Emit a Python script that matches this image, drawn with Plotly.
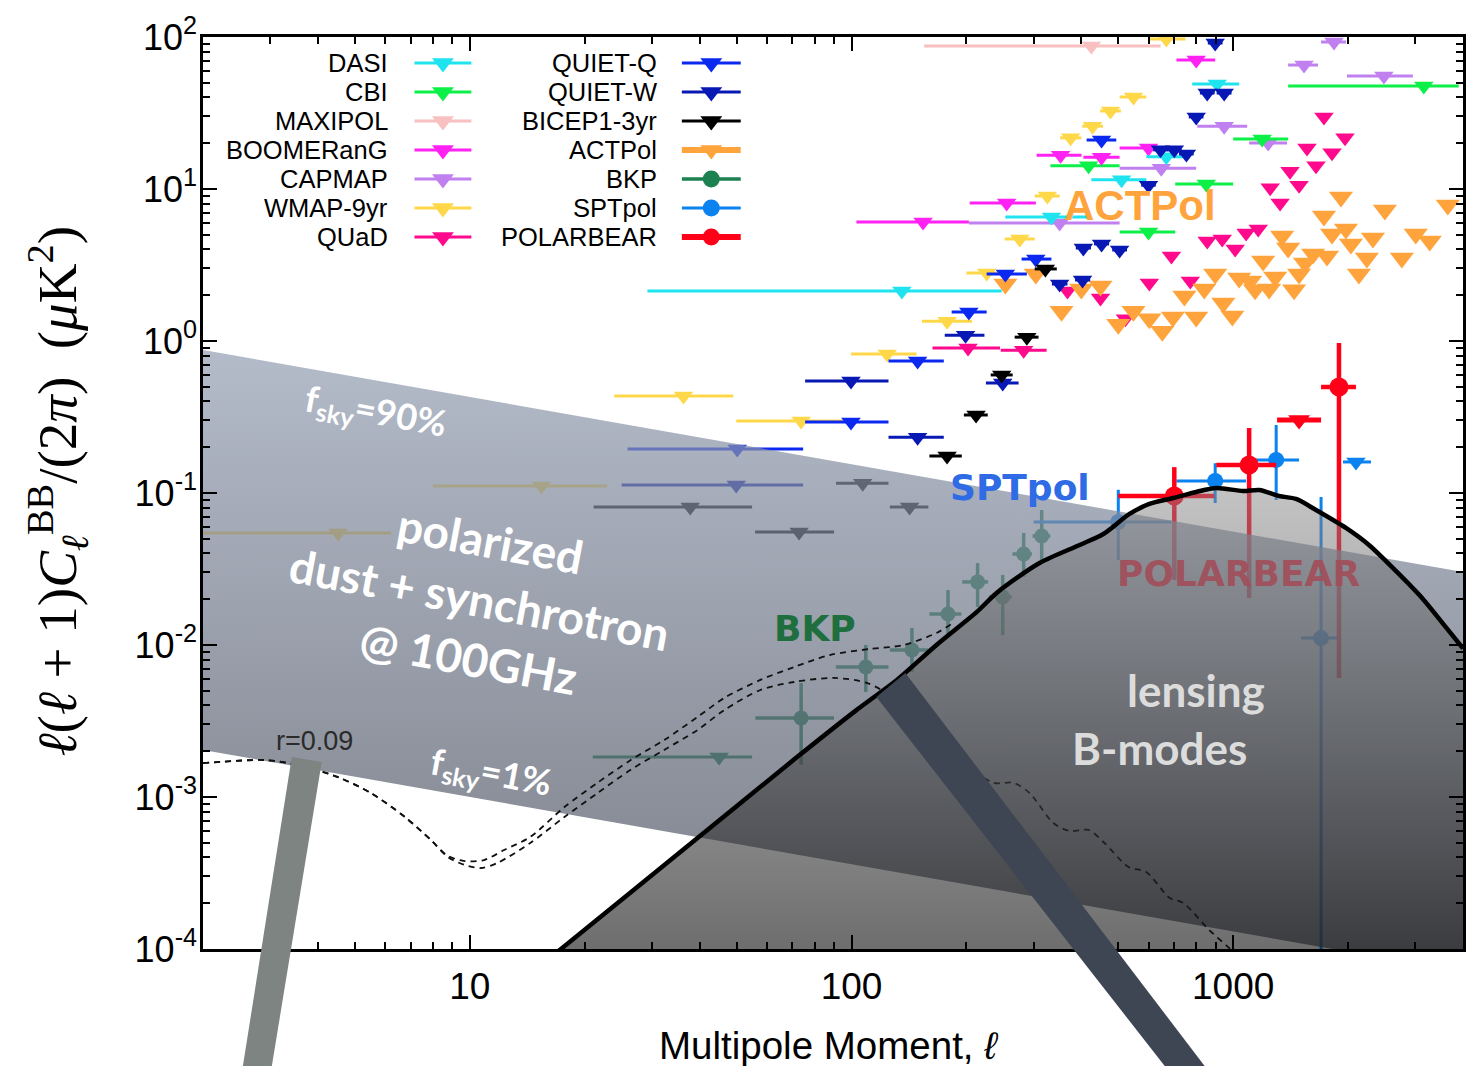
import math
import plotly.graph_objects as go

# ---------------------------------------------------------------------------
# B-mode band powers, l(l+1)C_l^BB/2pi in uK^2
# upper limits: bin centre, lower/upper bin edge, limit value
# ---------------------------------------------------------------------------
dasi_l = [135.5, 334, 510, 668, 908]
dasi_lo = [29.2, 253, 425, 592, 781]
dasi_hi = [247.5, 415, 592, 754, 1037]
dasi_v = [2.13, 6.54, 11.5, 16.3, 49.0]

cbi_l = [418, 600, 850, 1191, 3158]
cbi_lo = [332, 504, 705, 1000, 1393]
cbi_hi = [504, 705, 1000, 1393, 3898]
cbi_v = [14.2, 5.21, 10.8, 21.3, 47.6]

maxipol_l = [425]
maxipol_lo = [155]
maxipol_hi = [645]
maxipol_v = [87.3]

boom_l = [154, 255, 353, 452, 600, 800]
boom_lo = [103, 204, 305.5, 405, 504, 710]
boom_hi = [203, 304, 400.5, 504, 645, 897]
boom_v = [6.07, 8.09, 16.7, 16.2, 18.6, 70.6]

capmap_l = [351, 648, 947, 1235, 1533, 1837, 2482]
capmap_lo = [203, 504, 805, 1101, 1393, 1699, 1986]
capmap_hi = [504, 800, 1088, 1384, 1668, 1974, 2955]
capmap_v = [5.98, 13.7, 25.9, 20.1, 65.4, 92.7, 55.4]

wmap_l = [4.52, 15.4, 36.3, 73.8, 124, 178, 226, 276, 326, 375, 428, 477, 548, 668]
wmap_lo = [2.0, 8.01, 23.9, 49.9, 99.7, 153, 200, 252, 302, 352, 402, 448, 504, 603]
wmap_hi = [6.22, 22.9, 49.0, 95.0, 148, 207, 255, 302, 351, 400, 456, 508, 592, 750]
wmap_v = [0.0546, 0.111, 0.435, 0.298, 0.821, 1.35, 2.80, 4.69, 8.99, 21.7, 25.9, 32.6, 40.3, 97.0]

quad_l = [1729, 1963, 1561, 1815, 1648, 1409, 1488, 1250, 1327, 1163, 1081, 936, 855,
          1012, 689, 603, 772, 368, 449, 522, 202, 282.5]
quad_lo = [1729, 1963, 1561, 1815, 1648, 1409, 1488, 1250, 1327, 1163, 1081, 936, 855,
           1012, 689, 603, 772, 368, 449, 522, 163, 246]
quad_hi = [1729, 1963, 1561, 1815, 1648, 1409, 1488, 1250, 1327, 1163, 1081, 936, 855,
           1012, 689, 603, 772, 368, 449, 522, 245, 324.5]
quad_v = [29.8, 21.7, 18.6, 17.3, 14.2, 13.1, 10.6, 10.2, 8.09, 5.46, 5.14, 4.69, 4.55,
          4.03, 3.62, 2.41, 2.48, 2.13, 1.92, 1.40, 0.90, 0.87]

quietq_l = [50.2, 99.7, 149, 203, 253, 304, 452]
quietq_lo = [25.9, 75.6, 125, 183, 226, 279, 413]
quietq_hi = [74.7, 125, 174.5, 226, 288, 334, 494]
quietq_v = [0.195, 0.293, 0.738, 1.55, 2.76, 3.46, 21.0]

quietw_l = [49.9, 99.7, 149, 199, 249, 351, 403, 405, 452, 504, 600, 645, 701, 754, 800, 855, 947, 897]
quietw_lo = [25.0, 75.6, 125, 175.5, 225, 335, 385, 387, 432, 482, 574, 617, 670, 721, 765, 818, 905, 858]
quietw_hi = [74.7, 125, 174.5, 223, 274, 368, 422, 424, 473, 527, 627, 674, 733, 788, 836, 894, 990, 938]
quietw_v = [0.113, 0.546, 0.233, 1.09, 0.53, 2.37, 2.52, 4.09, 4.35, 3.97, 10.6, 18.1, 18.1,
            17.0, 29.8, 42.8, 42.8, 91.3]

bicep_l = [37.8, 72.9, 107, 142, 178, 212, 247.5, 288, 322]
bicep_lo = [21.1, 55.9, 91.1, 126, 160, 197, 231.6, 267.6, 302]
bicep_hi = [54.9, 90.0, 125, 159, 194.5, 227.5, 264.4, 309, 345]
bicep_v = [0.0809, 0.0554, 0.116, 0.0809, 0.175, 0.326, 0.598, 1.06, 2.98]

actpol_l = [1916, 3649, 2497, 1729, 1974, 1343, 2323, 3008, 3273, 1815, 2034, 1393, 1619, 1761,
            1542, 2240, 2766, 1198, 1288, 2135, 1488, 1037, 897, 1108, 1242, 1444, 1141, 840,
            745, 942, 995, 800, 695, 603, 548, 500, 652, 449, 400, 355, 304, 253]
actpol_v = [8.86, 7.85, 7.28, 6.64, 5.46, 4.91, 4.76, 5.06, 4.55, 5.06, 4.35, 4.09, 3.74, 3.62,
            3.26, 3.52, 3.52, 3.36, 2.64, 2.76, 2.76, 2.60, 2.76, 2.48, 2.20, 2.17, 2.17, 2.20,
            1.98, 1.78, 1.46, 1.44, 1.44, 1.40, 1.57, 1.29, 1.16, 2.30, 2.20, 1.57, 2.76, 2.37]

# detections: bin centre, bin edges, band power and its 1-sigma range
bkp_l = [73.8, 109, 144, 179, 214, 249, 282.5, 315]
bkp_lo = [56, 91, 126, 160, 195, 229, 264, 298]
bkp_hi = [90, 125, 159, 194, 228, 263, 297, 332]
bkp_v = [0.00331, 0.00716, 0.00927, 0.0160, 0.0260, 0.0207, 0.0397, 0.0521]
bkp_vlo = [0.00163, 0.00491, 0.00664, 0.0113, 0.0178, 0.0116, 0.0280, 0.0362]
bkp_vhi = [0.00562, 0.0100, 0.01294, 0.0230, 0.0346, 0.0289, 0.0546, 0.0773]
bkp_ul_l, bkp_ul_lo, bkp_ul_hi, bkp_ul_v = [45.0], [21.0], [54.9], [0.00183]

spt_l = [500, 897, 1296, 1699]
spt_lo = [300, 710, 1149, 1506]
spt_hi = [689, 1081, 1488, 1882]
spt_v = [0.0645, 0.120, 0.165, 0.0111]
spt_vlo = [0.0362, 0.0859, 0.0899, 1e-5]
spt_vhi = [0.105, 0.157, 0.280, 0.0941]
spt_ul_l, spt_ul_lo, spt_ul_hi, spt_ul_v = [2097], [1939], [2296], [0.160]

pb_l = [701, 1101, 1893]
pb_lo = [500, 903, 1699]
pb_hi = [892, 1296, 2097]
pb_v = [0.0955, 0.153, 0.498]
pb_vlo = [0.0268, 0.0204, 0.00607]
pb_vhi = [0.148, 0.268, 0.970]
pb_ul_l, pb_ul_lo, pb_ul_hi, pb_ul_v = [1488], [1303], [1699], [0.302]

# ---------------------------------------------------------------------------
# model spectra
# ---------------------------------------------------------------------------
lens_l = [16.0, 17.5, 39.5, 72.0, 103, 131.5, 167, 213, 240, 311, 396, 457, 535, 603, 697, 800,
          903, 1062, 1170, 1319, 1461, 1648, 1974, 2268, 2668, 3140, 3606, 4000]
lens_v = [8.5e-5, 1.02e-4, 5.37e-4, 1.83e-3, 3.73e-3, 5.89e-3, 1.0e-2, 1.65e-2, 2.20e-2, 3.46e-2,
          4.55e-2, 5.37e-2, 7.28e-2, 8.47e-2, 9.27e-2, 0.1016, 0.1079, 0.1030, 0.1047, 0.0955,
          0.0914, 0.0773, 0.0589, 0.0455, 0.0307, 0.0201, 0.0131, 0.0095]

# r = 0.09 primordial (tensor) spectrum
tens_l = [2.0, 2.91, 3.55, 4.52, 5.51, 6.76, 7.91, 8.76, 9.70, 10.7, 11.8, 14.4, 17.7, 21.6, 26.4,
          32.3, 39.5, 46.4, 57.7, 70.7, 90.0, 110, 131.5, 167, 200, 236, 266, 293, 338, 373, 418,
          460, 532, 592, 681, 740, 866, 970, 1081]
tens_v = [1.67e-3, 1.75e-3, 1.62e-3, 1.35e-3, 1.06e-3, 7.39e-4, 5.21e-4, 4.03e-4, 3.57e-4,
          3.41e-4, 3.68e-4, 4.98e-4, 7.39e-4, 1.06e-3, 1.51e-3, 2.04e-3, 2.76e-3, 3.73e-3,
          5.06e-3, 5.71e-3, 6.07e-3, 5.62e-3, 4.35e-3, 2.56e-3, 1.62e-3, 1.24e-3, 1.24e-3,
          1.06e-3, 6.74e-4, 5.97e-4, 6.07e-4, 4.98e-4, 3.46e-4, 3.21e-4, 2.17e-4, 2.01e-4,
          1.33e-4, 1.03e-4, 8.0e-5]

# r = 0.09 tensor + lensing
tot_l = [2.0, 2.91, 3.55, 4.52, 5.51, 6.76, 7.91, 8.76, 9.70, 10.9, 12.3, 14.4, 17.7, 21.6, 26.4,
         32.3, 39.5, 46.4, 57.7, 70.7, 87.8, 112, 137, 167, 185]
tot_v = [1.67e-3, 1.75e-3, 1.62e-3, 1.35e-3, 1.06e-3, 7.39e-4, 5.21e-4, 4.10e-4, 3.79e-4,
         3.85e-4, 4.48e-4, 5.46e-4, 8.59e-4, 1.24e-3, 1.75e-3, 2.37e-3, 3.36e-3, 4.48e-3,
         5.89e-3, 7.16e-3, 8.59e-3, 9.42e-3, 1.0e-2, 1.20e-2, 1.40e-2]

# polarized dust + synchrotron at 100 GHz, for f_sky = 90% and f_sky = 1%
fg_l = [2, 4000]
fg_fsky90 = [0.873, 0.0302]
fg_fsky1 = [0.00204, 7.06e-5]

# ---------------------------------------------------------------------------
C_DASI = "#1fe3ee"
C_CBI = "#0cf048"
C_MAXIPOL = "#f8c0c0"
C_BOOM = "#ff22f2"
C_CAPMAP = "#c080f0"
C_WMAP = "#ffd84a"
C_QUAD = "#ff0a8c"
C_QQ = "#0a28f0"
C_QW = "#0818b4"
C_BICEP = "#000000"
C_ACT = "#ffa43c"
C_BKP = "#1c8050"
C_SPT = "#0a82f0"
C_PB = "#ff0018"

fig = go.Figure()


def limits(l, lo, hi, v, color, size=17, thick=3):
    fig.add_trace(go.Scatter(
        x=l, y=v, mode="markers",
        marker=dict(symbol="triangle-down", size=size, color=color, line=dict(width=0)),
        error_x=dict(type="data", symmetric=False,
                     array=[h - c for h, c in zip(hi, l)],
                     arrayminus=[c - a for a, c in zip(lo, l)],
                     color=color, thickness=thick, width=0),
        showlegend=False, hoverinfo="skip"))


def detections(l, lo, hi, v, vlo, vhi, color, size=16, thick=3.5):
    fig.add_trace(go.Scatter(
        x=l, y=v, mode="markers",
        marker=dict(symbol="circle", size=size, color=color, line=dict(width=0)),
        error_x=dict(type="data", symmetric=False,
                     array=[h - c for h, c in zip(hi, l)],
                     arrayminus=[c - a for a, c in zip(lo, l)],
                     color=color, thickness=thick, width=0),
        error_y=dict(type="data", symmetric=False,
                     array=[h - c for h, c in zip(vhi, v)],
                     arrayminus=[c - a for a, c in zip(vlo, v)],
                     color=color, thickness=thick, width=0),
        showlegend=False, hoverinfo="skip"))


limits(maxipol_l, maxipol_lo, maxipol_hi, maxipol_v, C_MAXIPOL)
limits(capmap_l, capmap_lo, capmap_hi, capmap_v, C_CAPMAP)
limits(cbi_l, cbi_lo, cbi_hi, cbi_v, C_CBI)
limits(boom_l, boom_lo, boom_hi, boom_v, C_BOOM)
limits(wmap_l, wmap_lo, wmap_hi, wmap_v, C_WMAP)
limits(quad_l, quad_lo, quad_hi, quad_v, C_QUAD)
limits(actpol_l, actpol_l, actpol_l, actpol_v, C_ACT, size=21)
limits(dasi_l, dasi_lo, dasi_hi, dasi_v, C_DASI)
limits(quietq_l, quietq_lo, quietq_hi, quietq_v, C_QQ)
limits(quietw_l, quietw_lo, quietw_hi, quietw_v, C_QW)
limits(bicep_l, bicep_lo, bicep_hi, bicep_v, C_BICEP)
limits(bkp_ul_l, bkp_ul_lo, bkp_ul_hi, bkp_ul_v, C_BKP)
detections(bkp_l, bkp_lo, bkp_hi, bkp_v, bkp_vlo, bkp_vhi, C_BKP, size=15, thick=3.5)
limits(spt_ul_l, spt_ul_lo, spt_ul_hi, spt_ul_v, C_SPT)
detections(spt_l, spt_lo, spt_hi, spt_v, spt_vlo, spt_vhi, C_SPT, size=16, thick=3)
limits(pb_ul_l, pb_ul_lo, pb_ul_hi, pb_ul_v, C_PB, size=19, thick=5)
detections(pb_l, pb_lo, pb_hi, pb_v, pb_vlo, pb_vhi, C_PB, size=19, thick=4.5)

# foreground band (translucent, so data behind it are dimmed)
fig.add_trace(go.Scatter(
    x=fg_l + fg_l[::-1] + fg_l[:1],
    y=fg_fsky90 + fg_fsky1[::-1] + fg_fsky90[:1],
    mode="lines", line=dict(width=0), fill="toself",
    fillgradient=dict(type="vertical",
                      colorscale=[[0, "rgba(72,78,90,0.72)"], [1, "rgba(150,160,180,0.72)"]]),
    showlegend=False, hoverinfo="skip"))

# r = 0.09 curves
for lx, vy in ((tot_l, tot_v), (tens_l, tens_v)):
    fig.add_trace(go.Scatter(x=lx, y=vy, mode="lines",
                             line=dict(color="#111111", width=1.8, dash="6px,5px",
                                       shape="spline", smoothing=0.8),
                             showlegend=False, hoverinfo="skip"))

# lensing B-modes: shaded region and outline
fig.add_trace(go.Scatter(
    x=lens_l + [4000, lens_l[0]],
    y=lens_v + [8.0e-5, 8.0e-5],
    mode="lines", line=dict(width=0, shape="spline", smoothing=0.8), fill="toself",
    fillgradient=dict(type="vertical",
                      colorscale=[[0, "rgba(0,0,0,0.62)"], [1, "rgba(135,135,135,0.5)"]]),
    showlegend=False, hoverinfo="skip"))
fig.add_trace(go.Scatter(x=lens_l, y=lens_v, mode="lines",
                         line=dict(color="black", width=4.5, shape="spline", smoothing=0.8),
                         showlegend=False, hoverinfo="skip"))

# ---------------------------------------------------------------------------
# pixel helpers for layout placement (plot area: x 203..1466, y 37..949)
def px(x):
    return (x - 203) / 1263.0


def py(y):
    return (949 - y) / 912.0


# hand-built two-column legend on an overlay axis pair
legend_cols = [
    [("DASI", C_DASI, "triangle-down", 3), ("CBI", C_CBI, "triangle-down", 3),
     ("MAXIPOL", C_MAXIPOL, "triangle-down", 3), ("BOOMERanG", C_BOOM, "triangle-down", 3),
     ("CAPMAP", C_CAPMAP, "triangle-down", 3), ("WMAP-9yr", C_WMAP, "triangle-down", 3),
     ("QUaD", C_QUAD, "triangle-down", 3)],
    [("QUIET-Q", C_QQ, "triangle-down", 3), ("QUIET-W", C_QW, "triangle-down", 3),
     ("BICEP1-3yr", C_BICEP, "triangle-down", 3), ("ACTPol", C_ACT, "triangle-down", 6),
     ("BKP", C_BKP, "circle", 3.5), ("SPTpol", C_SPT, "circle", 3),
     ("POLARBEAR", C_PB, "circle", 6)],
]
col_geom = [(390, 415, 472), (660, 683, 742)]  # text right edge, glyph left, glyph right

annotations = []
for (text_r, g0, g1), entries in zip(col_geom, legend_cols):
    for k, (name, color, sym, lw) in enumerate(entries):
        yy = py(63 + 29 * k)
        fig.add_trace(go.Scatter(x=[px(g0), px(g1)], y=[yy, yy], mode="lines",
                                 line=dict(color=color, width=lw), xaxis="x2", yaxis="y2",
                                 showlegend=False, hoverinfo="skip"))
        fig.add_trace(go.Scatter(x=[px((g0 + g1) / 2)], y=[yy], mode="markers",
                                 marker=dict(symbol=sym, size=19 if sym != "circle" else 17,
                                             color=color, line=dict(width=0)),
                                 xaxis="x2", yaxis="y2", showlegend=False, hoverinfo="skip"))
        annotations.append(dict(x=px(text_r), y=yy, xref="paper", yref="paper",
                                text=name, showarrow=False, xanchor="right", yanchor="middle",
                                font=dict(family="Liberation Sans, Arial", size=25.5,
                                          color="black")))

HUM = "Lato, Open Sans, sans-serif"
BOLD = "DejaVu Sans, Verdana, sans-serif"


def label(x, y, text, size, color, family, angle=0, weight="bold"):
    annotations.append(dict(x=px(x), y=py(y), xref="paper", yref="paper", text=text,
                            showarrow=False, xanchor="center", yanchor="middle",
                            textangle=angle,
                            font=dict(family=family, size=size, color=color, weight=weight)))


label(376, 413, "f<sub>sky</sub>=90%", 36, "white", HUM, angle=10.5)
label(480, 599, "polarized<br>dust + synchrotron<br>@ 100GHz", 46, "white", HUM, angle=10.5)
label(492, 773, "f<sub>sky</sub>=1%", 36, "white", HUM, angle=10.5)
label(1198, 690, "lensing", 44, "#dcdcdc", HUM)
label(1162, 748, "B-modes", 44, "#dcdcdc", HUM)
label(1142, 205, "ACTPol", 42, C_ACT, "Liberation Sans Narrow, Liberation Sans, Arial")
label(1022, 487, "SPTpol", 36, "#2e6be4", BOLD)
label(816, 628, "BKP", 36, "#1e6e3e", BOLD)
label(1241, 573, "POLARBEAR", 36, "rgba(160,80,92,0.95)", BOLD)
label(315, 741, "r=0.09", 27, "#2a2a2a", "Liberation Sans, Arial", weight="normal")

# axis titles
annotations.append(dict(x=px(830), y=py(1045), xref="paper", yref="paper",
                        text="Multipole Moment, <i>ℓ</i>", showarrow=False,
                        xanchor="center", yanchor="middle",
                        font=dict(family="Liberation Sans, Arial", size=38.5, color="black")))
NB = "\u00a0"
annotations.append(dict(x=px(57), y=py(491), xref="paper", yref="paper",
                        text=f"<i>ℓ</i>(<i>ℓ</i>{NB}+{NB}1)<i>C</i><sub><i>ℓ</i></sub>"
                             f"<sup>BB</sup>/(2<i>π</i>){NB}{NB}(<i>μ</i>K<sup>2</sup>)",
                        showarrow=False, xanchor="center", yanchor="middle", textangle=-90,
                        font=dict(family="Liberation Serif, DejaVu Serif, serif", size=55,
                                  color="black")))

# pointer bars running off the bottom of the frame
shapes = [
    dict(type="path", xref="paper", yref="paper", layer="above", line=dict(width=0),
         fillcolor="#7e8481",
         path=f"M {px(292)} {py(757)} L {px(322)} {py(762)} L {px(272)} {py(1066)} "
              f"L {px(243)} {py(1066)} Z"),
    dict(type="path", xref="paper", yref="paper", layer="above", line=dict(width=0),
         fillcolor="#3e4553",
         path=f"M {px(878)} {py(697)} L {px(907)} {py(673)} L {px(1207)} {py(1066)} "
              f"L {px(1167)} {py(1066)} Z"),
]

x_minor = [k * 10 ** e for e in range(0, 4) for k in range(2, 10) if 2 <= k * 10 ** e <= 4000]
y_minor = [k * 10.0 ** e for e in range(-4, 2) for k in range(2, 10)]
y_major = [10.0 ** e for e in range(-4, 3)]
y_text = [f"10<sup>{e}</sup>" for e in range(-4, 3)]

axis_common = dict(showline=True, linecolor="black", linewidth=2.5, mirror="allticks",
                   ticks="inside", ticklen=14, tickwidth=2, tickcolor="black",
                   showgrid=False, zeroline=False)

fig.update_layout(
    width=1466, height=1066,
    margin=dict(l=203, r=0, t=37, b=117, pad=0),
    paper_bgcolor="white", plot_bgcolor="white",
    showlegend=False,
    xaxis=dict(type="log", range=[math.log10(2), math.log10(4000)],
               tickmode="array", tickvals=[10, 100, 1000], ticktext=["10", "100", "1000"],
               ticklabelstandoff=3,
               tickfont=dict(family="Liberation Sans, Arial", size=37, color="black"),
               minor=dict(ticks="inside", ticklen=7, tickwidth=1.5, tickcolor="black",
                          tickmode="array", tickvals=x_minor, showgrid=False),
               **axis_common),
    yaxis=dict(type="log", range=[-4, 2],
               tickmode="array", tickvals=y_major, ticktext=y_text,
               ticklabelstandoff=-4,
               tickfont=dict(family="Liberation Sans, Arial", size=36, color="black"),
               minor=dict(ticks="inside", ticklen=7, tickwidth=1.5, tickcolor="black",
                          tickmode="array", tickvals=y_minor, showgrid=False),
               **axis_common),
    xaxis2=dict(range=[0, 1], visible=False, overlaying="x", anchor="y2", fixedrange=True),
    yaxis2=dict(range=[0, 1], visible=False, overlaying="y", anchor="x2", fixedrange=True),
    annotations=annotations,
    shapes=shapes,
)

fig.write_html("out.html")
